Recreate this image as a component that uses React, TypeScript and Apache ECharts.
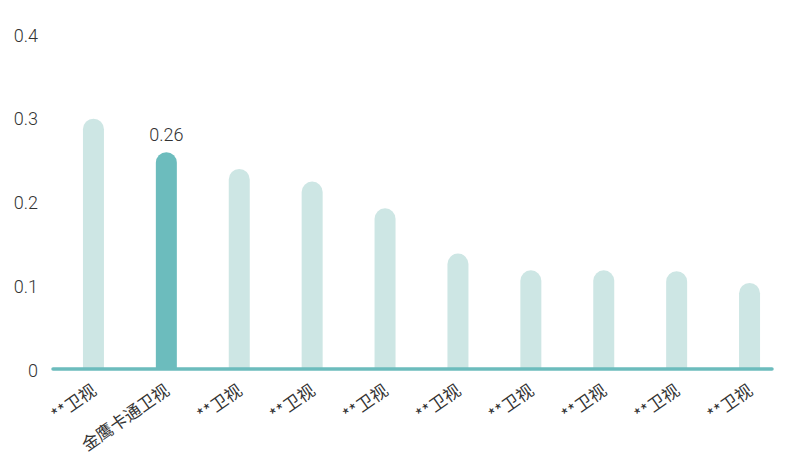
import React, { useEffect, useRef } from "react";
import * as echarts from "echarts";

const categories = [
  "**卫视",
  "金鹰卡通卫视",
  "**卫视",
  "**卫视",
  "**卫视",
  "**卫视",
  "**卫视",
  "**卫视",
  "**卫视",
  "**卫视",
];
const values = [0.3, 0.26, 0.24, 0.225, 0.193, 0.139, 0.119, 0.119, 0.118, 0.104];
const highlightIndex = 1;
const yTicks = { min: 0, max: 0.4, interval: 0.1 };

const LIGHT = "#cde6e4";
const DARK = "#6cbcbd";
const TEXT = "#333333";
const NUM_FONT = "Roboto, 'Noto Sans', sans-serif";
const CJK_FONT = "'Noto Sans CJK SC', sans-serif";

export default function App() {
  const ref = useRef<HTMLDivElement>(null);
  useEffect(() => {
    if (!ref.current) return;
    const chart = echarts.init(ref.current, null, { renderer: "svg" });
    chart.setOption({
      animation: false,
      backgroundColor: "#ffffff",
      grid: [
        { left: 57, right: 14, top: 35, bottom: 101, outerBoundsMode: "none" },
        { left: 53, right: 28, top: 35, bottom: 102, outerBoundsMode: "none" },
      ],
      xAxis: [
        {
          type: "category",
          gridIndex: 0,
          data: categories,
          axisLine: { show: false },
          axisTick: { show: false },
          axisLabel: {
            rotate: 35,
            margin: 17,
            fontSize: 17,
            color: TEXT,
            fontFamily: CJK_FONT,
            interval: 0,
          },
        },
        {
          type: "category",
          gridIndex: 1,
          data: [""],
          axisLine: { show: true, lineStyle: { color: DARK, width: 3.5 } },
          axisTick: { show: false },
          axisLabel: { show: false },
          z: 10,
        },
      ],
      yAxis: [
        {
          type: "value",
          gridIndex: 0,
          min: yTicks.min,
          max: yTicks.max,
          interval: yTicks.interval,
          axisLine: { show: false },
          axisTick: { show: false },
          splitLine: { show: false },
          axisLabel: {
            margin: 19,
            fontSize: 18,
            color: TEXT,
            fontFamily: NUM_FONT,
            fontWeight: 300,
          },
        },
        {
          type: "value",
          gridIndex: 1,
          min: 0,
          max: 1,
          show: false,
        },
      ],
      series: [
        {
          type: "bar",
          xAxisIndex: 0,
          yAxisIndex: 0,
          barWidth: 21,
          data: values.map((v, i) => ({
            value: v,
            itemStyle: {
              color: i === highlightIndex ? DARK : LIGHT,
              borderRadius: [10.5, 10.5, 0, 0],
            },
            label: {
              show: i === highlightIndex,
              position: "top",
              distance: 9,
              fontSize: 18,
              color: TEXT,
              fontFamily: NUM_FONT,
              fontWeight: 300,
            },
          })),
        },
      ],
    });
    return () => chart.dispose();
  }, []);
  return <div ref={ref} style={{ width: 800, height: 471, position: "absolute", left: 0, top: 0 }} />;
}
